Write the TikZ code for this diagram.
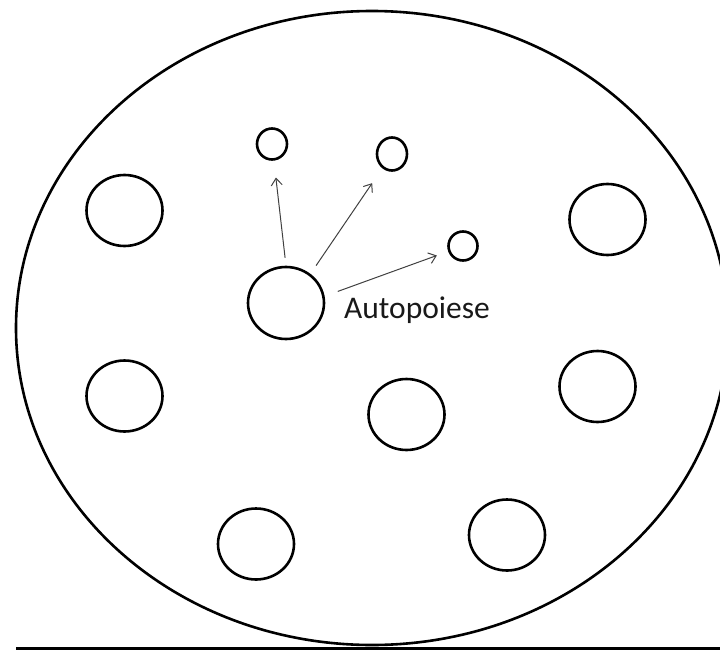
\documentclass[tikz,border=0pt]{standalone}
\usepackage{fontspec}
\setsansfont{Carlito}
\usetikzlibrary{arrows.meta,shapes.geometric}

\begin{document}
\begin{tikzpicture}[x=1pt,y=-1pt,>={Straight Barb[length=7pt,width=11pt]},
  cell/.style={draw,ellipse,line width=2.6pt,inner sep=0pt,minimum width=76pt,minimum height=71pt},
  bud/.style={draw,ellipse,line width=2.6pt,inner sep=0pt,minimum width=30pt,minimum height=31pt},
  split/.style={->,line width=1pt,black!75}]
  \useasboundingbox (0,0) rectangle (720,653);
  % outer membrane
  \node (wall) [draw,ellipse,line width=2.6pt,minimum width=712pt,minimum height=634pt] at (372,328) {};
  % cells
  \node (a) [cell] at (124.5,210.5) {};
  \node (b) [cell] at (607.5,219.5) {};
  \node (c) [cell] at (124.5,396) {};
  \node (d) [cell] at (406.5,414.5) {};
  \node (e) [cell] at (597.5,386.5) {};
  \node (f) [cell] at (256,544) {};
  \node (g) [cell] at (507,535) {};
  \node (src) [cell,minimum width=76pt,minimum height=72pt] at (286,303) {};
  % offspring
  \node (c1) [bud] at (272,144) {};
  \node (c2) [bud,minimum height=33pt] at (392,154) {};
  \node (c3) [bud,minimum width=29pt,minimum height=29pt] at (463,246) {};
  \draw[split,shorten <=8pt,shorten >=17pt] (src.north) -- (c1);
  \draw[split,shorten <=10pt,shorten >=18pt] (src.50) -- (c2);
  \draw[split,shorten <=14pt,shorten >=12pt] (src.10) -- (c3);
  \node (lbl) [anchor=base west,inner sep=0pt,font=\sffamily\fontsize{31.5}{38}\selectfont,text=black!90] at (344,318) {Autopoiese};
  \draw[line width=3pt] (16,648) -- (720,648);
\end{tikzpicture}
\end{document}
